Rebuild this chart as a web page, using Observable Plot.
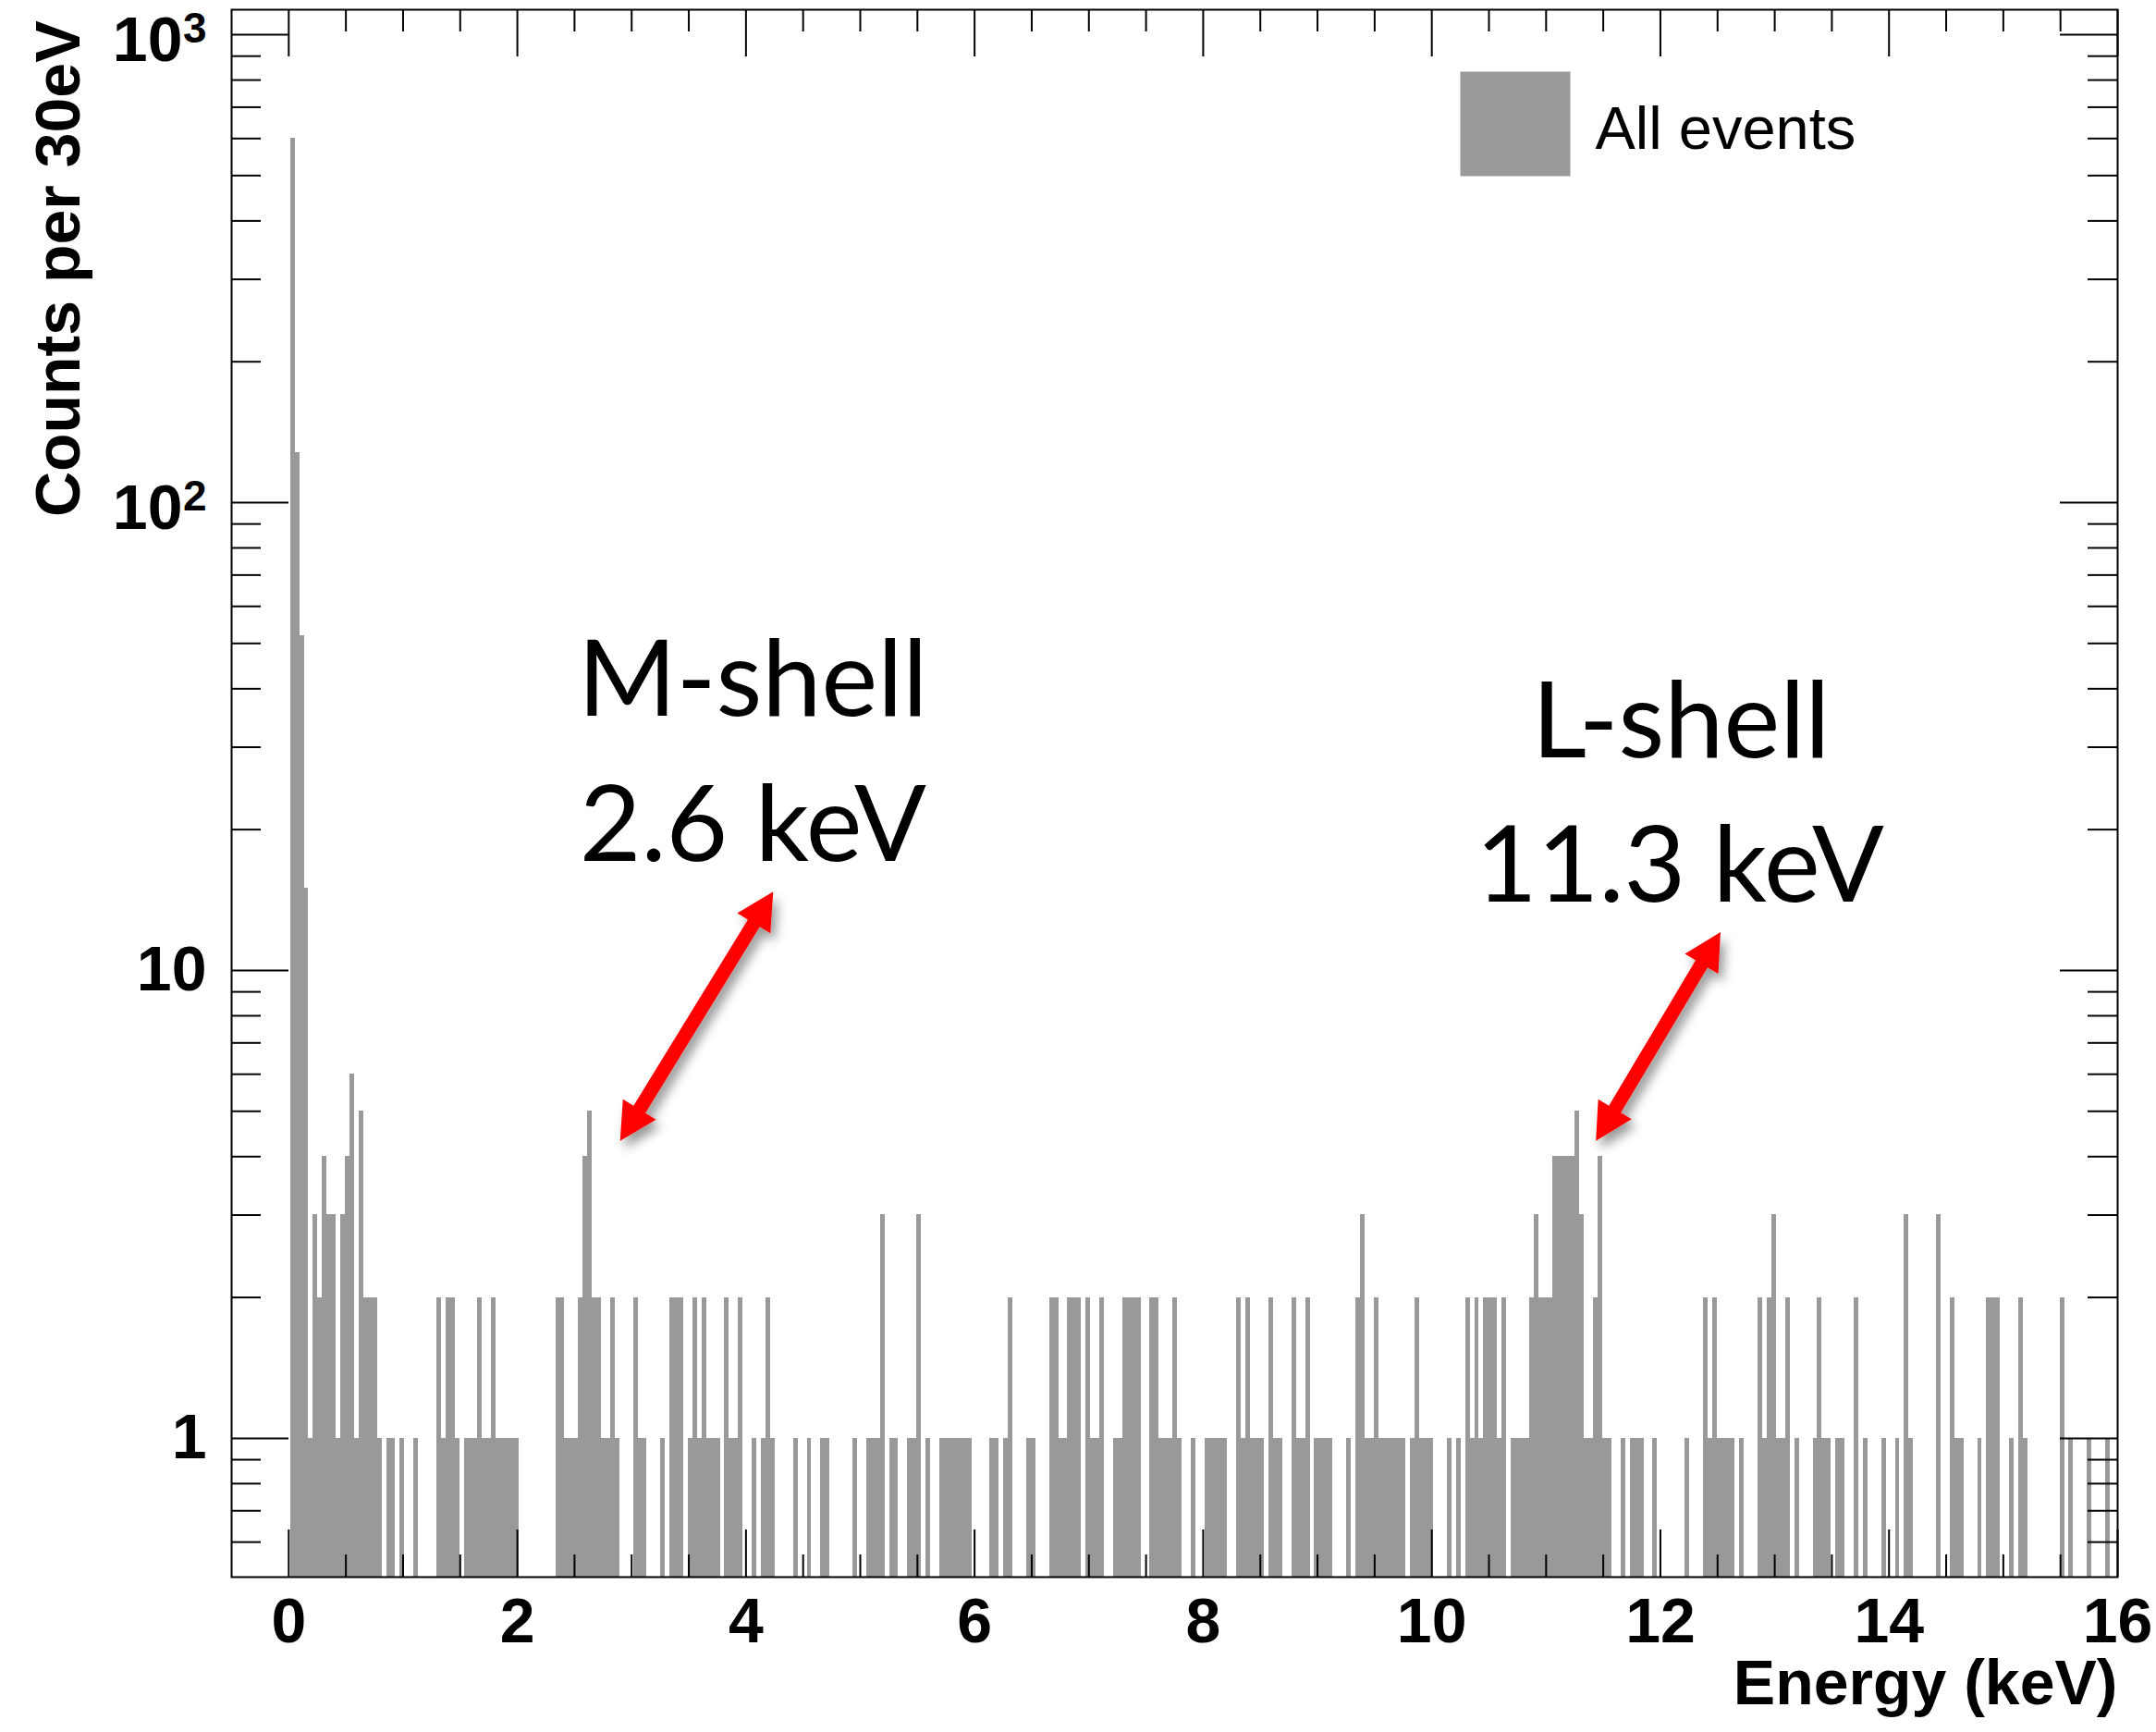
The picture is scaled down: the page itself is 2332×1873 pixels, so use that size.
<!DOCTYPE html>
<html><head><meta charset="utf-8">
<script src="https://cdn.jsdelivr.net/npm/d3@7"></script>
<script src="https://cdn.jsdelivr.net/npm/@observablehq/plot@0.6"></script>
<style>
html,body{margin:0;padding:0;background:#fff;}
#chart{width:2332px;height:1873px;overflow:hidden;}
</style></head><body><div id="chart"></div>
<script>
// ---- data (counts per energy bin) ----
const binStart = 0.015;   // keV, low edge of first bin
const binWidth = 0.04;    // keV
const counts = [
600,128,52,15,1,3,2,4,3,3, 1,3,4,6,1,5,2,2,2,1,
0,1,1,0,1,0,0,1,0,0, 0,0,2,1,2,2,1,0,1,1,
1,2,1,1,2,1,1,1,1,1, 0,0,0,0,0,0,0,0,2,2,
1,1,1,2,4,5,2,2,1,1, 2,1,0,0,0,2,1,1,0,0,
0,1,0,2,2,2,0,1,2,1, 2,1,1,1,0,2,1,1,2,0,
0,1,0,1,2,1,0,0,0,0, 1,0,0,1,0,0,1,1,0,0,
0,0,0,1,0,0,1,1,1,3, 0,1,1,0,0,1,1,3,0,1,
0,0,1,1,1,1,1,1,1,0, 0,0,0,1,1,0,1,2,0,0,
0,1,1,0,0,0,2,2,1,1, 2,2,2,0,2,1,1,2,0,0,
1,1,2,2,2,2,0,0,2,2, 1,1,1,2,1,0,0,1,0,0,
1,1,1,1,1,0,0,2,1,2, 1,1,1,0,2,1,1,0,0,2,
1,1,2,0,1,1,1,1,0,0, 0,1,0,2,3,1,1,2,1,1,
1,1,1,1,0,1,2,1,1,1, 0,0,0,1,0,1,0,2,1,2,
1,2,2,2,1,2,0,1,1,1, 1,2,3,2,2,2,4,4,4,4,
4,5,3,1,1,2,4,1,1,0, 0,1,0,1,1,1,0,0,1,0,
0,0,0,0,0,1,0,0,0,2, 1,2,1,1,1,1,0,1,0,0,
0,2,1,2,3,1,1,2,0,1, 0,0,0,1,2,1,1,0,1,1,
0,0,2,0,1,0,0,0,1,0, 0,1,0,3,1,0,0,0,0,0,
3,0,0,2,1,1,0,0,0,1, 0,2,2,2,0,0,1,0,2,1,
0,0,0,0,0,0,0,2,0,1, 0,0,0,1,0,0,0,1,0,0
];
const xMajorTicks = [0, 2, 4, 6, 8, 10, 12, 14, 16];
const xMinorTicks = [0.5, 1, 1.5, 2.5, 3, 3.5, 4.5, 5, 5.5, 6.5, 7, 7.5, 8.5, 9, 9.5, 10.5, 11, 11.5, 12.5, 13, 13.5, 14.5, 15, 15.5];
const yMajorTicks = [1, 10, 100, 1000];
const yTickBase = ["1", "10", "10", "10"];
const yTickExp = ["", "", "2", "3"];
const yMinorTicks = [0.6, 0.7, 0.8, 0.9, 2, 3, 4, 5, 6, 7, 8, 9, 20, 30, 40, 50, 60, 70, 80, 90, 200, 300, 400, 500, 600, 700, 800, 900];
const xTitle = "Energy (keV)";
const yTitle = "Counts per 30eV";
const legendLabel = "All events";
const annotationText = ["M-shell", "2.6 keV", "L-shell", "11.3 keV"];
const annotationX = [4.06, 4.06, 12.18, 12.17];
const annotationY = [41.5, 20.3, 33.8, 16.6];
const arrowFrom = [[2.903, 4.31], [11.44, 4.31]];
const arrowTo = [[4.242, 14.7], [12.53, 12.05]];

// ---- layout ----
const W = 2332, H = 1873, mL = 250, mR = 42, mT = 10, mB = 168;
const FW = W - mL - mR, FH = H - mT - mB;
const yMin = 0.505, yMax = 1131;
const barColor = "#999999";

const bins = counts.map((c, i) => ({
  x1: binStart + i * binWidth,
  x2: Math.min(16, binStart + (i + 1) * binWidth),
  c
})).filter(d => d.c > 0);

const yLabels = yMajorTicks.map((v, i) => ({v, base: yTickBase[i], exp: yTickExp[i]}));
const annotations = annotationText.map((t, i) => ({t, x: annotationX[i], y: annotationY[i]}));

function arrowsMark(index, scales) {
  const g = d3.create("svg:g");
  const defs = g.append("defs");
  const f = defs.append("filter").attr("id", "arrowShadow").attr("x", "-50%").attr("y", "-50%").attr("width", "200%").attr("height", "200%");
  f.append("feDropShadow").attr("dx", 5).attr("dy", 8).attr("stdDeviation", 6).attr("flood-color", "#000").attr("flood-opacity", 0.4);
  const h = 40, w = 21, s = 7.5;
  for (let i = 0; i < arrowFrom.length; i++) {
    const x1 = scales.x(arrowFrom[i][0]), y1 = scales.y(arrowFrom[i][1]);
    const x2 = scales.x(arrowTo[i][0]), y2 = scales.y(arrowTo[i][1]);
    const L = Math.hypot(x2 - x1, y2 - y1);
    const ux = (x2 - x1) / L, uy = (y2 - y1) / L, nx = -uy, ny = ux;
    const P = (px, py, a, b) => [px + a * ux + b * nx, py + a * uy + b * ny];
    const pts = [
      [x1, y1], P(x1, y1, h, w), P(x1, y1, h, s), P(x2, y2, -h, s), P(x2, y2, -h, w),
      [x2, y2], P(x2, y2, -h, -w), P(x2, y2, -h, -s), P(x1, y1, h, -s), P(x1, y1, h, -w)
    ];
    g.append("polygon").attr("points", pts.map(p => p.join(",")).join(" "))
      .attr("fill", "#ff0000").attr("filter", "url(#arrowShadow)");
  }
  return g.node();
}

const plot = Plot.plot({
  width: W, height: H,
  marginLeft: mL, marginRight: mR, marginTop: mT, marginBottom: mB,
  style: {background: "#fff", fontFamily: "'Liberation Sans', Arial, Helvetica, sans-serif", overflow: "visible"},
  x: {domain: [-0.5, 16], axis: null},
  y: {type: "log", domain: [yMin, yMax], axis: null},
  marks: [
    Plot.rect(bins, {x1: "x1", x2: "x2", y1: yMin, y2: "c", fill: barColor, shapeRendering: "crispEdges"}),
    // legend swatch
    Plot.frame({fill: barColor, stroke: null, insetLeft: 1329, insetRight: 592, insetTop: 67, insetBottom: 1515}),
    Plot.text([legendLabel], {frameAnchor: "top-right", dx: -565, dy: 130, lineAnchor: "middle", textAnchor: "start", fontSize: 65, fill: "#000"}),
    // ticks (inward, on all four sides)
    Plot.tickX(xMajorTicks, {x: d => d, insetTop: FH - 51, stroke: "#000", strokeWidth: 2}),
    Plot.tickX(xMajorTicks, {x: d => d, insetBottom: FH - 51, stroke: "#000", strokeWidth: 2}),
    Plot.tickX(xMinorTicks, {x: d => d, insetTop: FH - 24, stroke: "#000", strokeWidth: 2}),
    Plot.tickX(xMinorTicks, {x: d => d, insetBottom: FH - 24, stroke: "#000", strokeWidth: 2}),
    Plot.tickY(yMajorTicks, {y: d => d, insetRight: FW - 62, stroke: "#000", strokeWidth: 2}),
    Plot.tickY(yMajorTicks, {y: d => d, insetLeft: FW - 62, stroke: "#000", strokeWidth: 2}),
    Plot.tickY(yMinorTicks, {y: d => d, insetRight: FW - 32, stroke: "#000", strokeWidth: 2}),
    Plot.tickY(yMinorTicks, {y: d => d, insetLeft: FW - 32, stroke: "#000", strokeWidth: 2}),
    Plot.frame({stroke: "#000", strokeWidth: 2}),
    // tick labels
    Plot.text(xMajorTicks, {x: d => d, text: d => String(d), frameAnchor: "bottom", lineAnchor: "middle", dy: 49, fontSize: 68, fontWeight: "bold", fill: "#000"}),
    Plot.text(yLabels.filter(d => !d.exp), {y: "v", text: "base", frameAnchor: "left", lineAnchor: "middle", dx: -27, textAnchor: "end", fontSize: 68, fontWeight: "bold", fill: "#000"}),
    Plot.text(yLabels.filter(d => d.exp), {y: "v", text: "base", frameAnchor: "left", lineAnchor: "middle", dx: -53, dy: 7, textAnchor: "end", fontSize: 68, fontWeight: "bold", fill: "#000"}),
    Plot.text(yLabels.filter(d => d.exp), {y: "v", text: "exp", frameAnchor: "left", lineAnchor: "middle", dx: -27, dy: -6, textAnchor: "end", fontSize: 46, fontWeight: "bold", fill: "#000"}),
    // axis titles
    Plot.text([xTitle], {frameAnchor: "bottom-right", lineAnchor: "middle", dy: 116, textAnchor: "end", fontSize: 68, fontWeight: "bold", fill: "#000"}),
    Plot.text([yTitle], {frameAnchor: "top-left", lineAnchor: "middle", dx: -186, dy: 12, rotate: -90, textAnchor: "end", fontSize: 68, fontWeight: "bold", fill: "#000"}),
    // annotations
    Plot.text(annotations, {x: "x", y: "y", text: "t", fontFamily: "Lato", fontSize: 115, fill: "#000"}),
    arrowsMark
  ]
});
document.getElementById("chart").appendChild(plot);
</script>
</body></html>
